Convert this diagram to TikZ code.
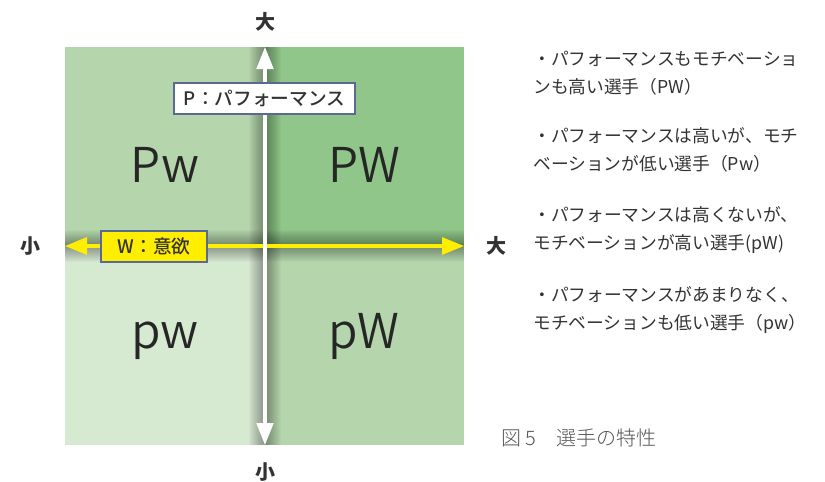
\documentclass[tikz,border=0pt]{standalone}
\usepackage{fontspec}
\setmainfont{Noto Sans CJK JP}
\newfontfamily\jplight{Noto Sans CJK JP Light}
\newfontfamily\jpdemi{Noto Sans CJK JP DemiLight}
\newfontfamily\jpmedium{Noto Sans CJK JP Medium}
\usetikzlibrary{arrows.meta}
\definecolor{quadlight}{RGB}{214,233,209}
\definecolor{quadmid}{RGB}{181,214,172}
\definecolor{quaddark}{RGB}{144,198,137}
\definecolor{axisyellow}{RGB}{255,238,0}
\definecolor{boxline}{RGB}{90,105,145}
\definecolor{textgray}{RGB}{51,51,51}
\definecolor{capgray}{RGB}{85,85,85}
\tikzstyle{quadlabel} = [anchor=base, inner sep=0pt, text=black!85, font=\jpdemi\fontsize{36pt}{36pt}\selectfont]
\tikzstyle{axislabel} = [inner sep=0pt, text=textgray, font=\bfseries\fontsize{15pt}{15pt}\selectfont]
\tikzstyle{axisbox} = [draw=boxline, line width=0.9pt, inner sep=0pt, minimum height=23.25pt, text=textgray, font=\jpmedium\fontsize{14pt}{14pt}\selectfont]
\tikzstyle{note} = [anchor=base west, inner sep=0pt, align=left, text=textgray, font=\fontsize{13.3pt}{21pt}\selectfont]
\tikzstyle{shade} = [black, opacity=0.025]
\tikzstyle{parrow} = [white, line width=2.4pt, {Triangle[length=16.5pt,width=12.5pt]}-{Triangle[length=16.5pt,width=12.5pt]}]
\tikzstyle{warrow} = [axisyellow, line width=2.3pt, {Triangle[length=16.5pt,width=12.75pt]}-{Triangle[length=16.5pt,width=12.75pt]}]

\begin{document}
\begin{tikzpicture}[x=0.75pt, y=-0.75pt]
        \useasboundingbox (0,0) rectangle (825,482);
        \fill[white] (0,0) rectangle (825,482);
        % quadrants
        \fill[quadmid] (65,47) rectangle (265,246);
        \fill[quaddark] (265,47) rectangle (464,246);
        \fill[quadlight] (65,246) rectangle (265,445);
        \fill[quadmid] (265,246) rectangle (464,445);

        \coordinate (ptop) at (265,47);
        \coordinate (pbottom) at (265,445);
        \coordinate (wleft) at (65,246);
        \coordinate (wright) at (464,246);

        % shadows of the axes
        \begin{scope}
            \clip (65,47) rectangle (464,445);
            \foreach \w in {3,4.5,...,24}
            {
                \draw[shade, line width=\w pt] (pbottom) -- (ptop);
                \draw[shade, line width=\w pt] (wleft) -- (wright);
            }
        \end{scope}

        \draw[warrow] (wleft) -- (wright);
        \draw[parrow] (pbottom) -- (ptop);

        \node (pbox) [axisbox, fill=white, minimum width=135.75pt] at (264.5,98.5) {P：パフォーマンス};
        \node (wbox) [axisbox, fill=axisyellow, minimum width=79.5pt] at (154,246.5) {W：意欲};

        \node (pmax) [axislabel] at (265,22) {大};
        \node (pmin) [axislabel] at (265,472) {小};
        \node (wmin) [axislabel] at (30,246) {小};
        \node (wmax) [axislabel] at (496,246) {大};

        \node (highlow) [quadlabel] at (165,182) {Pw};
        \node (highhigh) [quadlabel] at (364,182) {PW};
        \node (lowlow) [quadlabel] at (165,348) {pw};
        \node (lowhigh) [quadlabel] at (364,348) {pW};

        \node (notePW) [note] at (533,93) {・パフォーマンスもモチベーショ\\ンも高い選手（PW）};
        \node (notePw) [note] at (533,170) {・パフォーマンスは高いが、モチ\\ベーションが低い選手（Pw）};
        \node (notepW) [note] at (533,249) {・パフォーマンスは高くないが、\\モチベーションが高い選手(pW)};
        \node (notepw) [note] at (533,329) {・パフォーマンスがあまりなく、\\モチベーションも低い選手（pw）};

        \node (caption) [anchor=west, inner sep=0pt, text=capgray, font=\jplight\fontsize{15pt}{15pt}\selectfont] at (501,438) {図 5　選手の特性};
    \end{tikzpicture}
\end{document}
